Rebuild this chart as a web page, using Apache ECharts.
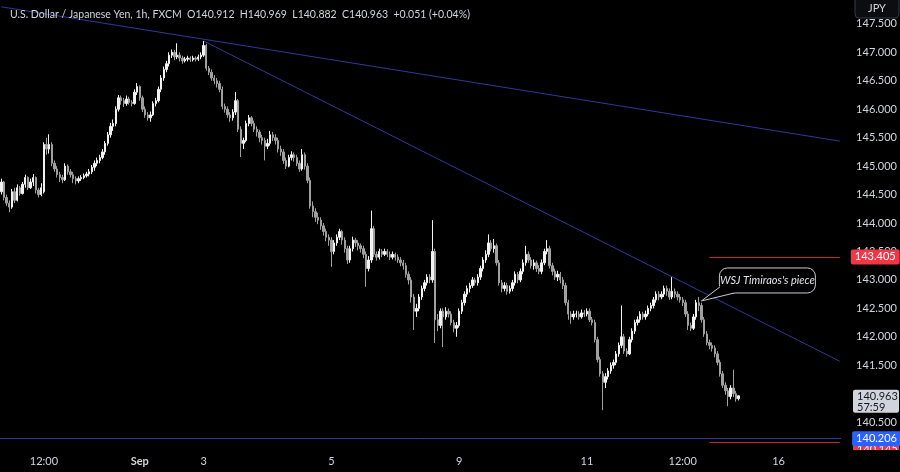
<!DOCTYPE html>
<html>
<head>
<meta charset="utf-8">
<title>USDJPY 1h</title>
<script src="https://cdn.jsdelivr.net/npm/echarts@6/dist/echarts.min.js"></script>
<style>
  html, body { margin: 0; padding: 0; background: #000; }
  #chart { width: 900px; height: 472px; }
</style>
</head>
<body>
<div id="chart"></div>
<script>
// trading sessions shown on the axis: [day, first hour]; weekends are skipped
const sessions = [
  ['2024-08-28', 20], ['2024-08-29', 0], ['2024-08-30', 0],
  ['2024-09-02', 0], ['2024-09-03', 0], ['2024-09-04', 0], ['2024-09-05', 0], ['2024-09-06', 0],
  ['2024-09-09', 0], ['2024-09-10', 0], ['2024-09-11', 0], ['2024-09-12', 0], ['2024-09-13', 0],
  ['2024-09-16', 0]
]

// bottom axis labels
const timeLabels = {
  '2024-08-29 12:00': '12:00',
  '2024-09-02 00:00': 'Sep',
  '2024-09-03 00:00': '3',
  '2024-09-05 00:00': '5',
  '2024-09-09 00:00': '9',
  '2024-09-11 00:00': '11',
  '2024-09-12 12:00': '12:00',
  '2024-09-16 00:00': '16'
}

// hourly candles: [open, close, low, high]
const candles = [
  [144.55, 144.72, 144.5, 144.78], [144.72, 144.45, 144.4, 144.74], [144.45, 144.35, 144.3, 144.5], [144.35, 144.28, 144.19, 144.4],
  [144.28, 144.55, 144.25, 144.6], [144.55, 144.4, 144.35, 144.62], [144.4, 144.62, 144.38, 144.68], [144.62, 144.52, 144.48, 144.65],
  [144.52, 144.68, 144.5, 144.72], [144.68, 144.8, 144.62, 144.85], [144.8, 144.62, 144.58, 144.82], [144.62, 144.72, 144.6, 144.78],
  [144.72, 144.8, 144.65, 144.86], [144.8, 144.58, 144.52, 144.82], [144.58, 144.5, 144.45, 144.62], [144.5, 144.62, 144.47, 144.7],
  [144.55, 145.38, 144.52, 145.42], [145.38, 145.3, 145.2, 145.5], [145.3, 145.38, 145.22, 145.56], [145.38, 145.05, 145.0, 145.42],
  [145.05, 144.95, 144.9, 145.1], [144.95, 144.85, 144.8, 145.0], [144.85, 144.8, 144.72, 144.9], [144.8, 144.76, 144.7, 144.85],
  [144.76, 145.0, 144.74, 145.05], [145.0, 144.9, 144.85, 145.03], [144.9, 144.85, 144.8, 144.95], [144.85, 144.78, 144.7, 144.9],
  [144.78, 144.74, 144.68, 144.82], [144.74, 144.78, 144.7, 144.82], [144.78, 144.8, 144.74, 144.84], [144.8, 144.83, 144.77, 144.87],
  [144.83, 144.86, 144.8, 144.9], [144.86, 144.9, 144.82, 144.95], [144.9, 144.98, 144.86, 145.02], [144.98, 145.05, 144.92, 145.1],
  [145.05, 145.1, 145.0, 145.15], [145.1, 145.15, 145.05, 145.2], [145.15, 145.25, 145.12, 145.3], [145.25, 145.4, 145.2, 145.44],
  [145.4, 145.55, 145.36, 145.6], [145.55, 145.7, 145.5, 145.76], [145.7, 145.75, 145.62, 145.82], [145.75, 146.0, 145.7, 146.05],
  [146.0, 146.2, 145.96, 146.25], [146.2, 146.15, 146.08, 146.24], [146.15, 146.1, 146.04, 146.2], [146.1, 146.18, 146.06, 146.24],
  [146.18, 146.12, 146.08, 146.22], [146.12, 146.1, 146.05, 146.16], [146.1, 146.3, 146.08, 146.35], [146.3, 146.4, 146.25, 146.46],
  [146.4, 146.2, 146.15, 146.42], [146.2, 146.0, 145.95, 146.24], [146.0, 145.9, 145.85, 146.05], [145.9, 145.85, 145.8, 145.95],
  [145.85, 145.9, 145.78, 145.96], [145.9, 146.1, 145.88, 146.14], [146.1, 146.15, 146.05, 146.2], [146.15, 146.35, 146.12, 146.4],
  [146.35, 146.55, 146.3, 146.6], [146.55, 146.7, 146.5, 146.75], [146.7, 146.8, 146.65, 146.85], [146.8, 146.95, 146.75, 147.0],
  [146.95, 147.0, 146.9, 147.05], [147.0, 146.92, 146.86, 147.04], [146.92, 146.95, 146.88, 147.16], [146.95, 146.9, 146.84, 147.0],
  [146.9, 146.85, 146.8, 146.94], [146.85, 146.88, 146.82, 146.92], [146.88, 146.9, 146.84, 146.94], [146.9, 146.87, 146.83, 146.93],
  [146.87, 146.9, 146.84, 146.94], [146.9, 146.88, 146.84, 146.93], [146.88, 146.92, 146.85, 146.96], [146.92, 146.95, 146.88, 147.0],
  [146.95, 147.12, 146.92, 147.2], [147.12, 146.72, 146.68, 147.15], [146.72, 146.65, 146.6, 146.76], [146.65, 146.55, 146.5, 146.7],
  [146.55, 146.5, 146.44, 146.6], [146.5, 146.45, 146.38, 146.55], [146.45, 146.35, 146.3, 146.5], [146.35, 146.05, 146.0, 146.4],
  [146.05, 146.0, 145.94, 146.1], [146.0, 145.9, 145.85, 146.05], [145.9, 145.85, 145.78, 145.95], [145.85, 145.95, 145.8, 146.0],
  [145.95, 146.15, 145.9, 146.3], [146.15, 145.65, 145.6, 146.18], [145.65, 145.4, 145.16, 145.7], [145.4, 145.45, 145.3, 145.5],
  [145.45, 145.75, 145.42, 145.8], [145.75, 145.85, 145.7, 145.9], [145.85, 145.75, 145.7, 145.88], [145.75, 145.65, 145.6, 145.8],
  [145.65, 145.6, 145.52, 145.7], [145.6, 145.5, 145.42, 145.64], [145.5, 145.45, 145.38, 145.55], [145.45, 145.35, 145.1, 145.5],
  [145.35, 145.4, 145.3, 145.48], [145.4, 145.55, 145.36, 145.62], [145.55, 145.5, 145.44, 145.6], [145.5, 145.45, 145.38, 145.56],
  [145.45, 145.3, 145.24, 145.5], [145.3, 145.25, 145.18, 145.36], [145.25, 145.1, 145.04, 145.3], [145.1, 145.0, 144.95, 145.15],
  [145.0, 145.15, 144.98, 145.2], [145.15, 145.2, 145.1, 145.26], [145.2, 145.15, 145.08, 145.24], [145.15, 145.05, 145.0, 145.2],
  [145.05, 144.95, 144.9, 145.1], [144.95, 145.2, 144.92, 145.3], [145.2, 145.0, 144.94, 145.24], [145.0, 144.75, 144.7, 145.05],
  [144.75, 144.3, 144.25, 144.8], [144.3, 144.2, 144.1, 144.38], [144.2, 144.1, 144.02, 144.26], [144.1, 144.05, 143.98, 144.18],
  [144.05, 143.95, 143.88, 144.1], [143.95, 143.85, 143.78, 144.0], [143.85, 143.75, 143.68, 143.9], [143.75, 143.7, 143.6, 143.8],
  [143.7, 143.5, 143.23, 143.75], [143.5, 143.65, 143.45, 143.7], [143.65, 143.75, 143.6, 143.8], [143.75, 143.85, 143.7, 143.9],
  [143.85, 143.7, 143.62, 143.88], [143.7, 143.55, 143.48, 143.75], [143.55, 143.35, 143.28, 143.6], [143.35, 143.55, 143.3, 143.6],
  [143.55, 143.7, 143.5, 143.76], [143.7, 143.65, 143.58, 143.74], [143.65, 143.6, 143.52, 143.7], [143.6, 143.55, 143.48, 143.64],
  [143.55, 143.45, 143.38, 143.6], [143.45, 143.2, 142.88, 143.5], [143.2, 143.35, 143.15, 143.42], [143.35, 143.9, 143.3, 144.22],
  [143.9, 143.45, 143.4, 143.95], [143.45, 143.4, 143.34, 143.5], [143.4, 143.5, 143.36, 143.55], [143.5, 143.45, 143.4, 143.54],
  [143.45, 143.5, 143.42, 143.55], [143.5, 143.45, 143.4, 143.54], [143.45, 143.4, 143.35, 143.5], [143.4, 143.45, 143.36, 143.5],
  [143.45, 143.4, 143.34, 143.48], [143.4, 143.35, 143.3, 143.45], [143.35, 143.3, 143.24, 143.4], [143.3, 143.25, 143.18, 143.35],
  [143.25, 143.1, 143.04, 143.3], [143.1, 143.0, 142.92, 143.15], [143.0, 142.7, 142.6, 143.05], [142.7, 142.45, 142.12, 142.75],
  [142.45, 142.5, 142.35, 142.58], [142.5, 142.7, 142.45, 142.75], [142.7, 142.85, 142.65, 142.9], [142.85, 142.95, 142.8, 143.0],
  [142.95, 143.05, 142.9, 143.1], [143.05, 143.0, 142.94, 143.1], [143.0, 143.5, 142.95, 144.05], [143.5, 142.3, 141.89, 143.55],
  [142.3, 142.2, 142.1, 142.4], [142.2, 142.45, 142.15, 142.5], [142.45, 142.35, 141.82, 142.5], [142.35, 142.45, 142.3, 142.52],
  [142.45, 142.4, 142.34, 142.5], [142.4, 142.25, 142.2, 142.45], [142.25, 142.15, 142.08, 142.3], [142.15, 142.2, 142.0, 142.26],
  [142.2, 142.45, 142.16, 142.5], [142.45, 142.6, 142.4, 142.65], [142.6, 142.75, 142.55, 142.8], [142.75, 142.85, 142.7, 142.9],
  [142.85, 142.9, 142.78, 142.95], [142.9, 143.0, 142.86, 143.05], [143.0, 142.95, 142.9, 143.04], [142.95, 143.05, 142.9, 143.1],
  [143.05, 143.2, 143.0, 143.25], [143.2, 143.35, 143.15, 143.4], [143.35, 143.45, 143.3, 143.52], [143.45, 143.65, 143.4, 143.8],
  [143.65, 143.55, 143.5, 143.7], [143.55, 143.6, 143.48, 143.72], [143.6, 143.3, 143.25, 143.64], [143.3, 142.95, 142.9, 143.35],
  [142.95, 142.85, 142.78, 143.0], [142.85, 142.9, 142.8, 142.96], [142.9, 142.8, 142.74, 142.95], [142.8, 142.85, 142.76, 142.9],
  [142.85, 142.95, 142.8, 143.0], [142.95, 143.1, 142.9, 143.15], [143.1, 143.0, 142.94, 143.14], [143.0, 143.15, 142.96, 143.2],
  [143.15, 143.3, 143.1, 143.36], [143.3, 143.45, 143.25, 143.6], [143.45, 143.35, 143.3, 143.5], [143.35, 143.25, 143.2, 143.4],
  [143.25, 143.3, 143.18, 143.36], [143.3, 143.2, 143.14, 143.34], [143.2, 143.15, 143.1, 143.26], [143.15, 143.3, 143.1, 143.36],
  [143.3, 143.5, 143.26, 143.55], [143.5, 143.55, 143.45, 143.7], [143.55, 143.25, 143.2, 143.6], [143.25, 143.15, 143.08, 143.3],
  [143.15, 143.05, 143.0, 143.2], [143.05, 143.1, 142.98, 143.16], [143.1, 143.0, 142.94, 143.14], [143.0, 142.9, 142.84, 143.05],
  [142.9, 142.6, 142.55, 142.95], [142.6, 142.4, 142.3, 142.65], [142.4, 142.35, 142.23, 142.45], [142.35, 142.4, 142.3, 142.46],
  [142.4, 142.4, 142.34, 142.46], [142.4, 142.35, 142.3, 142.45], [142.35, 142.42, 142.32, 142.48], [142.42, 142.4, 142.35, 142.47],
  [142.4, 142.45, 142.36, 142.5], [142.45, 142.3, 142.26, 142.5], [142.3, 142.25, 142.2, 142.35], [142.25, 141.95, 141.9, 142.3],
  [141.95, 141.6, 141.55, 142.0], [141.6, 141.35, 141.3, 141.65], [141.35, 141.2, 140.71, 141.4], [141.2, 141.3, 141.1, 141.36],
  [141.3, 141.4, 141.25, 141.45], [141.4, 141.5, 141.35, 141.55], [141.5, 141.55, 141.44, 141.6], [141.55, 141.7, 141.5, 141.75],
  [141.7, 141.85, 141.65, 141.9], [141.85, 142.0, 141.8, 142.55], [142.0, 141.75, 141.7, 142.05], [141.75, 141.7, 141.65, 141.8],
  [141.7, 141.95, 141.68, 142.0], [141.95, 142.1, 141.9, 142.15], [142.1, 142.25, 142.05, 142.3], [142.25, 142.3, 142.2, 142.36],
  [142.3, 142.4, 142.25, 142.45], [142.4, 142.35, 142.3, 142.44], [142.35, 142.4, 142.3, 142.46], [142.4, 142.5, 142.36, 142.55],
  [142.5, 142.55, 142.45, 142.6], [142.55, 142.65, 142.5, 142.7], [142.65, 142.75, 142.6, 142.8], [142.75, 142.7, 142.64, 142.8],
  [142.7, 142.75, 142.66, 142.8], [142.75, 142.85, 142.7, 142.9], [142.85, 142.8, 142.72, 142.9], [142.8, 142.7, 142.65, 142.85],
  [142.7, 142.8, 142.66, 143.05], [142.8, 142.75, 142.68, 142.85], [142.75, 142.7, 142.64, 142.8], [142.7, 142.65, 142.6, 142.75],
  [142.65, 142.6, 142.54, 142.7], [142.6, 142.4, 142.35, 142.65], [142.4, 142.2, 142.12, 142.45], [142.2, 142.15, 142.1, 142.25],
  [142.15, 142.35, 142.12, 142.4], [142.35, 142.6, 142.3, 142.65], [142.6, 142.55, 142.45, 142.7], [142.55, 142.3, 142.25, 142.6],
  [142.3, 142.05, 142.0, 142.35], [142.05, 141.9, 141.85, 142.1], [141.9, 141.85, 141.78, 141.95], [141.85, 141.8, 141.74, 141.9],
  [141.8, 141.7, 141.64, 141.85], [141.7, 141.55, 141.5, 141.75], [141.55, 141.35, 141.3, 141.6], [141.35, 141.15, 141.1, 141.4],
  [141.15, 141.05, 140.98, 141.2], [141.05, 140.95, 140.78, 141.1], [140.95, 141.1, 140.9, 141.15], [141.1, 141.0, 140.94, 141.42],
  [141.0, 140.91, 140.86, 141.05], [140.912, 140.963, 140.882, 140.969]
]

// drawn trend lines: [start candle, start price, end candle, end price]
const trendLines = [
  [0, 147.80, 315, 145.44],
  [76, 147.2, 315, 141.57]
]

// horizontal levels
const levelBlue = 140.206
const levelRedTop = 143.405
const levelRedBottom = 140.145
const levelRedStart = 266
const lastPrice = 140.963
const countdown = '57:59'

const titleText = 'U.S. Dollar / Japanese Yen, 1h, FXCM  O140.912  H140.969  L140.882  C140.963  +0.051 (+0.04%)'
const noteText = "WSJ Timiraos's piece"
const noteAnchor = [263, 142.63]

// build the hourly category axis
const categories = []
for (const [day, startHour] of sessions) {
  for (let h = startHour; h < 24; h++) {
    categories.push(day + ' ' + String(h).padStart(2, '0') + ':00')
  }
}

const textColor = '#d1d4dc'
const lineBlue = '#2f3a9a'
const lineRed = '#c22a35'
const font = 'Lato, "Noto Sans", sans-serif'

// price box on the right scale
function priceLabel (text, bg, fg) {
  return {
    show: true,
    position: 'end',
    distance: 11,
    formatter: text,
    backgroundColor: bg,
    color: fg,
    fontSize: 11,
    fontFamily: font,
    padding: [2, 4],
    borderRadius: 2
  }
}

const chart = echarts.init(document.getElementById('chart'))

const option = {
  backgroundColor: '#000000',
  animation: false,
  textStyle: { fontFamily: font },
  title: {
    text: titleText,
    left: 5,
    top: 4,
    textStyle: { color: textColor, fontSize: 10.5, fontWeight: 'normal', fontFamily: font }
  },
  grid: { left: 0, right: 57, top: 0, bottom: 21.4 },
  xAxis: {
    type: 'category',
    data: categories,
    boundaryGap: true,
    axisLine: { show: false },
    axisTick: { show: false },
    splitLine: { show: false },
    axisLabel: {
      color: textColor,
      fontSize: 11,
      margin: 5,
      interval: (i, v) => timeLabels[v] !== undefined,
      formatter: v => (timeLabels[v] === 'Sep' ? '{m|Sep}' : timeLabels[v]),
      rich: { m: { fontWeight: 'bold', color: textColor, fontSize: 11 } }
    }
  },
  yAxis: {
    type: 'value',
    position: 'right',
    min: 140,
    max: 147.92,
    interval: 0.5,
    axisLine: { show: false },
    axisTick: { show: false },
    splitLine: { show: false },
    axisLabel: {
      color: textColor,
      fontSize: 11,
      margin: 15,
      formatter: v => {
        // only the 0.5 steps; the ones under the price boxes are left out
        if (Math.abs(v * 2 - Math.round(v * 2)) > 1e-6 || v < 140.4) return ''
        if (Math.abs(v - lastPrice) < 0.2) return ''
        return v.toFixed(3)
      }
    }
  },
  series: [
    {
      type: 'candlestick',
      data: candles,
      barWidth: '70%',
      itemStyle: {
        color: '#f2f2f2',
        color0: '#a0a0a0',
        borderColor: '#f2f2f2',
        borderColor0: '#a0a0a0',
        borderWidth: 1
      },
      markLine: {
        symbol: 'none',
        silent: true,
        animation: false,
        label: { show: false },
        data: [
          ...trendLines.map(t => [
            { coord: [categories[t[0]], t[1]], lineStyle: { color: lineBlue, width: 1, type: 'solid' }, label: { show: false } },
            { coord: [categories[t[2]], t[3]] }
          ]),
          [
            { coord: [categories[levelRedStart], levelRedTop], lineStyle: { color: lineRed, width: 1, type: 'solid' },
              label: priceLabel(levelRedTop.toFixed(3), '#f23645', '#ffffff') },
            { coord: [categories[categories.length - 1], levelRedTop] }
          ],
          [
            { coord: [categories[levelRedStart], levelRedBottom], lineStyle: { color: lineRed, width: 1, type: 'solid' },
              label: { show: false } },
            { coord: [categories[categories.length - 1], levelRedBottom] }
          ],
          {
            yAxis: levelBlue,
            lineStyle: { color: lineBlue, width: 1, type: 'solid' },
            label: priceLabel(levelBlue.toFixed(3), '#2962ff', '#ffffff')
          }
        ]
      }
    }
  ]
}

chart.setOption(option)

// pixel spots taken from the axes
const tip = chart.convertToPixel({ seriesIndex: 0 }, [categories[noteAnchor[0]], noteAnchor[1]])
const tx = tip[0]
const ty = tip[1]
const lastY = chart.convertToPixel({ yAxisIndex: 0 }, lastPrice)
const redY = chart.convertToPixel({ yAxisIndex: 0 }, levelRedBottom)
const scaleX = 853

chart.setOption({
  graphic: [
    // current price box with the bar countdown
    {
      type: 'rect',
      z: 60,
      shape: { x: scaleX, y: lastY - 6, width: 46, height: 23, r: 2 },
      style: { fill: '#d1d4dc' }
    },
    {
      type: 'text',
      z: 61,
      style: {
        x: scaleX + 4, y: lastY - 5.5, text: lastPrice.toFixed(3) + '\n' + countdown,
        fill: '#131722', font: '11px ' + font, lineHeight: 11.5, textVerticalAlign: 'top'
      }
    },
    // lower red level box, pushed under the blue one
    {
      type: 'rect',
      z: 1,
      shape: { x: scaleX, y: redY + 0.5, width: 46, height: 14, r: 2 },
      style: { fill: '#f23645' }
    },
    {
      type: 'text',
      z: 1,
      style: {
        x: scaleX + 4, y: redY + 7.5, text: levelRedBottom.toFixed(3),
        fill: '#ffffff', font: '11px ' + font, textVerticalAlign: 'middle'
      }
    },
    {
      type: 'rect',
      z: 100,
      shape: { x: 843, y: 450, width: 57, height: 22 },
      style: { fill: '#000000' }
    },
    {
      type: 'rect',
      z: 100,
      shape: { x: 855, y: -4, width: 44, height: 22, r: 4 },
      style: { fill: '#0c0d10', stroke: '#363a45', lineWidth: 1 }
    },
    {
      type: 'text',
      z: 101,
      style: { x: 877, y: 8, text: 'JPY', fill: textColor, font: '11px ' + font, textAlign: 'center', textVerticalAlign: 'middle' }
    },
    // callout bubble
    {
      type: 'rect',
      z: 50,
      shape: { x: tx + 18, y: ty - 33, width: 96, height: 25, r: 8 },
      style: { fill: '#000000', stroke: '#c8cad0', lineWidth: 1 }
    },
    {
      type: 'polygon',
      z: 51,
      shape: { points: [[tx + 18.5, ty - 15], [tx, ty], [tx + 34, ty - 8.5]] },
      style: { fill: '#000000' }
    },
    {
      type: 'polyline',
      z: 52,
      shape: { points: [[tx + 18.5, ty - 14], [tx, ty], [tx + 33, ty - 8]] },
      style: { stroke: '#c8cad0', lineWidth: 1, fill: null }
    },
    {
      type: 'text',
      z: 53,
      style: {
        x: tx + 66,
        y: ty - 20.5,
        text: noteText,
        fill: '#e0e2e8',
        font: 'italic 11px ' + font,
        textAlign: 'center',
        textVerticalAlign: 'middle'
      }
    }
  ]
})
</script>
</body>
</html>
